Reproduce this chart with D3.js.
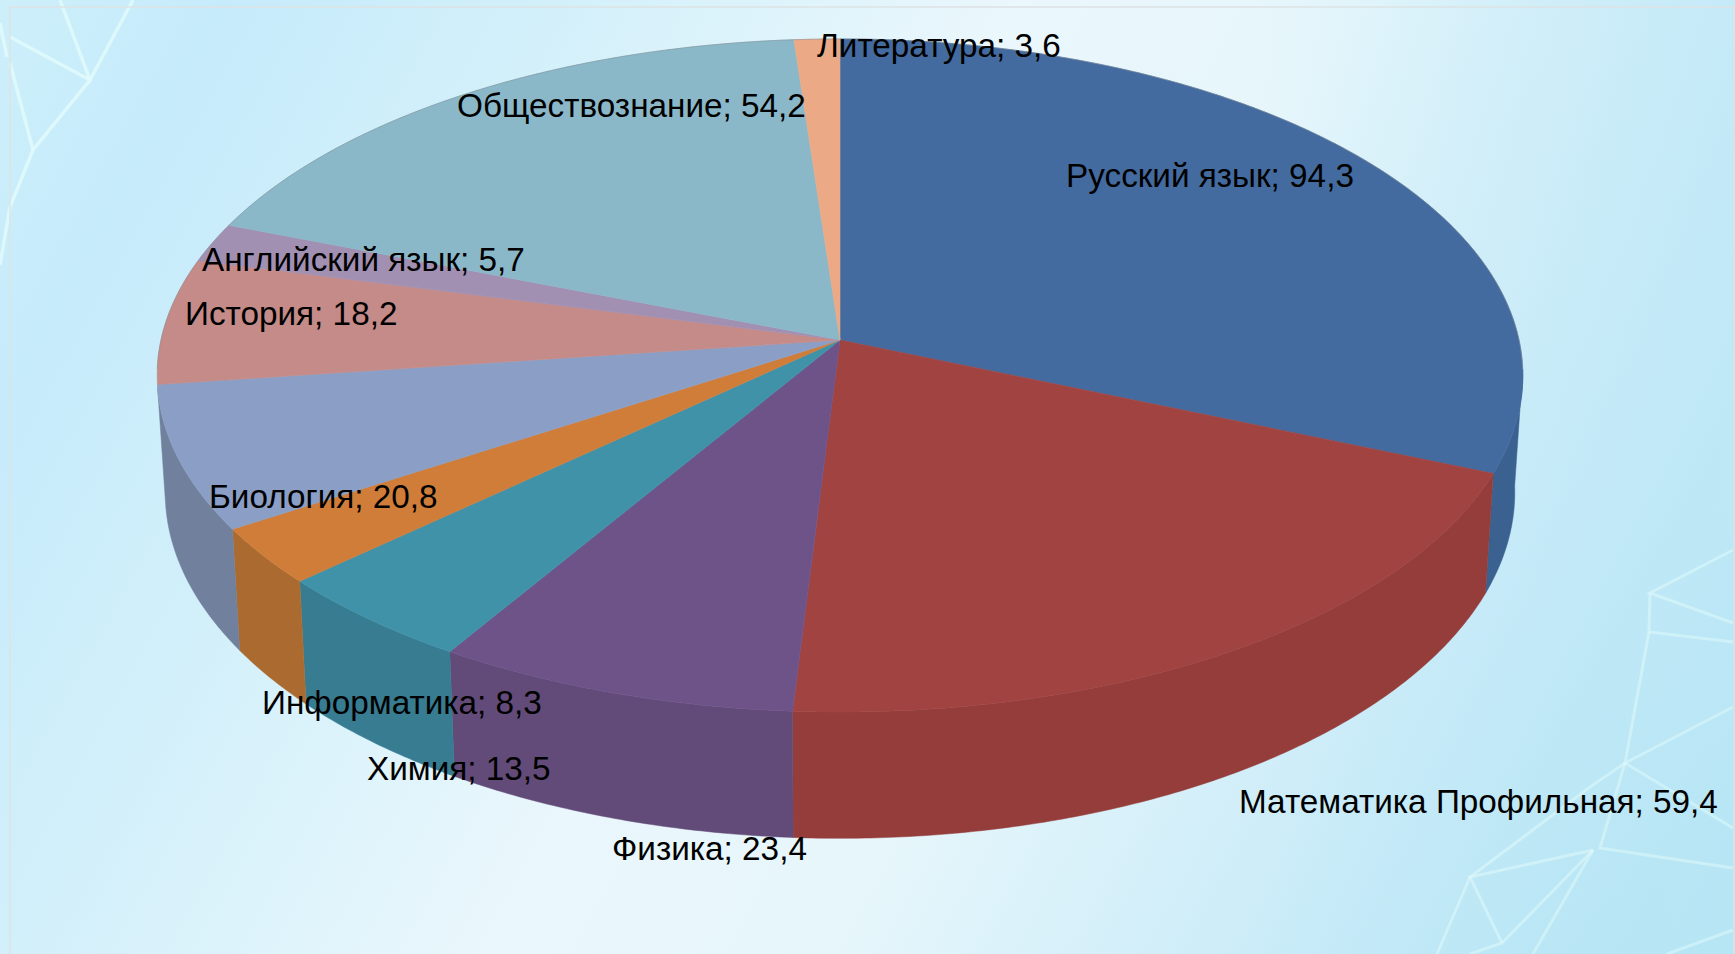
<!DOCTYPE html>
<html>
<head>
<meta charset="utf-8">
<title>Предметы</title>
<script src="https://cdn.jsdelivr.net/npm/d3@7"></script>
<style>
  html, body { margin: 0; padding: 0; background: #e6f6fb; overflow: hidden; }
  svg { display: block; }
  text { font-family: "Liberation Sans", Arial, sans-serif; fill: #000; }
</style>
</head>
<body>
<svg id="chart" width="1735" height="954"></svg>
<script>
// chart data
var subjects = ["Русский язык", "Математика Профильная", "Физика", "Химия", "Информатика",
  "Биология", "История", "Английский язык", "Обществознание", "Литература"];
var shares = [94.3, 59.4, 23.4, 13.5, 8.3, 20.8, 18.2, 5.7, 54.2, 3.6];

// colours per slice
var topColors = ["#446b9f", "#a14340", "#6e5389", "#4092a9", "#d07d3a",
  "#8b9fc6", "#c58b88", "#a290b3", "#8bb8c9", "#ebaa85"];
var wallColors = ["#3b6190", "#943d3a", "#624b78", "#377c90", "#ab6a30",
  "#70809d", "#a07270", "#857698", "#7397a5", "#c08c6d"];

// label placement (left x, baseline y)
var labelX = [1066, 1239, 612, 367, 262, 209, 185, 202, 457, 817];
var labelY = [187, 813, 860, 780, 714, 508, 325, 271, 117, 57];

// perspective of the disc, upper and lower face
var centerX = 840;
var perspective = 0.1055;
var upperFace = {a: 679, b: 332.8, cy: 340};
var lowerFace = {a: 671, b: 342, cy: 456};
// the wall only shows between the two side silhouettes
var wallFrom = 95 * Math.PI / 180;
var wallTo = 262 * Math.PI / 180;

// background decoration
var backgroundStops = [
  [0, "#cdeffa"], [0.1, "#c6ebfb"], [0.25, "#d3f0fa"], [0.45, "#eaf7fc"],
  [0.6, "#e6f6fb"], [0.8, "#c9ebf8"], [1, "#aae1f1"]
];
var meshTopLeft = [
  [[60, 0], [90, 80], [133, 0]],
  [[10, 37], [90, 80], [33, 150], [10, 207], [0, 265]],
  [[10, 63], [33, 150]],
  [[0, 23], [7, 57]]
];
var meshBottomRight = [
  [[1733, 550], [1650, 593], [1733, 623]],
  [[1650, 593], [1649, 632], [1733, 642]],
  [[1649, 632], [1625, 763], [1733, 707]],
  [[1625, 763], [1733, 828]],
  [[1625, 763], [1600, 848], [1733, 868]],
  [[1625, 763], [1590, 787], [1470, 877], [1437, 954]],
  [[1593, 850], [1470, 877], [1502, 943]],
  [[1593, 850], [1502, 943], [1470, 954]],
  [[1593, 850], [1533, 954]],
  [[1733, 930], [1667, 954]]
];

var svg = d3.select("#chart");
var defs = svg.append("defs");

var bgGradient = defs.append("linearGradient")
  .attr("id", "bg")
  .attr("gradientUnits", "userSpaceOnUse")
  .attr("x1", 0).attr("y1", 0)
  .attr("x2", 1735).attr("y2", 954);
bgGradient.selectAll("stop")
  .data(backgroundStops)
  .enter().append("stop")
  .attr("offset", function(d) { return d[0]; })
  .attr("stop-color", function(d) { return d[1]; });

var rightGlow = defs.append("linearGradient")
  .attr("id", "rightGlow")
  .attr("gradientUnits", "userSpaceOnUse")
  .attr("x1", 1250).attr("y1", 0)
  .attr("x2", 1735).attr("y2", 0);
rightGlow.append("stop").attr("offset", 0).attr("stop-color", "#bfe8f7").attr("stop-opacity", 0);
rightGlow.append("stop").attr("offset", 1).attr("stop-color", "#bfe8f7").attr("stop-opacity", 0.6);

svg.append("rect")
  .attr("width", 1735).attr("height", 954)
  .attr("fill", "url(#bg)");
svg.append("rect")
  .attr("width", 1735).attr("height", 954)
  .attr("fill", "url(#rightGlow)");

var polyline = d3.line();

function drawMesh(lines, opacity, width) {
  svg.append("g").selectAll("path")
    .data(lines)
    .enter().append("path")
    .attr("d", polyline)
    .attr("fill", "none")
    .attr("stroke", "#e2fbfb")
    .attr("stroke-opacity", opacity)
    .attr("stroke-width", width);
}
drawMesh(meshTopLeft, 0.8, 3.5);
drawMesh(meshBottomRight, 0.5, 3);

svg.append("rect")
  .attr("x", 10).attr("y", 7)
  .attr("width", 1724).attr("height", 960)
  .attr("fill", "none")
  .attr("stroke", "#dde2e3")
  .attr("stroke-width", 1.5);

// angle is clockwise from twelve o'clock, as d3.pie gives it
function project(face, angle) {
  var x = Math.sin(angle);
  var z = Math.cos(angle);
  var w = 1 + perspective * z;
  return [centerX + face.a * x / w, face.cy - face.b * z / w];
}

function arcAngles(from, to, step) {
  return d3.range(from, to, step).concat([to]);
}

var pie = d3.pie().sort(null).value(function(d) { return d; });
var slices = pie(shares);
var topColor = d3.scaleOrdinal().domain(subjects).range(topColors);
var wallColor = d3.scaleOrdinal().domain(subjects).range(wallColors);
var step = Math.PI / 360;

// outer wall
svg.append("g").selectAll("path")
  .data(slices.filter(function(s) { return s.startAngle < wallTo && s.endAngle > wallFrom; }))
  .enter().append("path")
  .attr("d", function(slice) {
    var angles = arcAngles(Math.max(slice.startAngle, wallFrom), Math.min(slice.endAngle, wallTo), step);
    var upper = angles.map(function(a) { return project(upperFace, a); });
    var lower = angles.map(function(a) { return project(lowerFace, a); }).reverse();
    return polyline(upper.concat(lower)) + "Z";
  })
  .attr("fill", function(slice) { return wallColor(subjects[slice.index]); })
  .attr("stroke", function(slice) { return wallColor(subjects[slice.index]); })
  .attr("stroke-width", 0.5);

// upper face
svg.append("g").selectAll("path")
  .data(slices)
  .enter().append("path")
  .attr("d", function(slice) {
    var points = arcAngles(slice.startAngle, slice.endAngle, step).map(function(a) { return project(upperFace, a); });
    points.unshift([centerX, upperFace.cy]);
    return polyline(points) + "Z";
  })
  .attr("fill", function(slice) { return topColor(subjects[slice.index]); })
  .attr("stroke", function(slice) { return topColor(subjects[slice.index]); })
  .attr("stroke-width", 0.6);

// thin grey edge along the back of the rim
svg.append("path")
  .attr("d", polyline(arcAngles(-wallFrom, wallFrom, step).map(function(a) { return project(upperFace, a); })))
  .attr("fill", "none")
  .attr("stroke", "#7f8a90")
  .attr("stroke-opacity", 0.5)
  .attr("stroke-width", 1);

// data labels
var decimal = d3.formatLocale({decimal: ",", thousands: " ", grouping: [3], currency: ["", ""]}).format(".1f");

svg.append("g").selectAll("text")
  .data(subjects)
  .enter().append("text")
  .attr("x", function(d, i) { return labelX[i]; })
  .attr("y", function(d, i) { return labelY[i]; })
  .attr("font-size", 33.3)
  .text(function(d, i) { return d + "; " + decimal(shares[i]); });
</script>
</body>
</html>
